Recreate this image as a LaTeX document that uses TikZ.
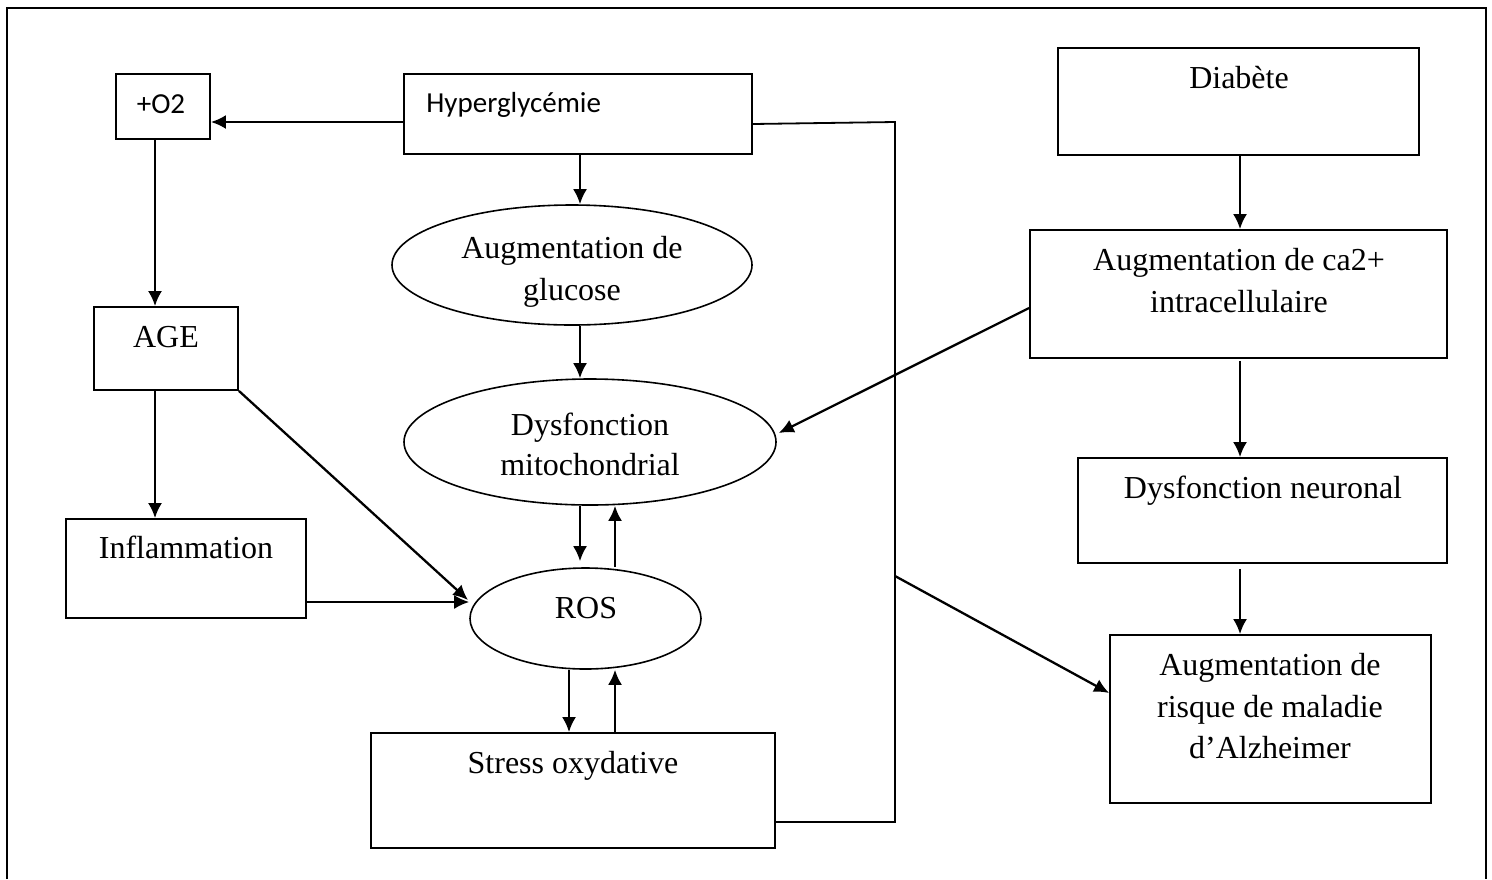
\documentclass[tikz,border=0pt]{standalone}
\usepackage{fontspec}
\setmainfont{Liberation Serif}
\newfontfamily\calib{Carlito}
\usetikzlibrary{shapes.geometric,arrows.meta,calc,fit}
\begin{document}
\begin{tikzpicture}[x=0.5pt,y=-0.5pt,
  box/.style={draw,line width=0.9pt,inner sep=0pt},
  ell/.style={draw,ellipse,line width=0.8pt,inner sep=0pt},
  txt/.style={inner sep=0pt,anchor=base,font=\fontsize{16}{19}\selectfont},
  ctxt/.style={inner sep=0pt,font=\calib\fontsize{14.5}{17}\selectfont},
  arr/.style={line width=1.15pt,-{Latex[length=7.5pt,width=7pt]}},
  ln/.style={line width=0.9pt}]
\useasboundingbox (0,0) rectangle (1492,879);
% frame
\draw[line width=1pt] (7,879) -- (7,8) -- (1486,8) -- (1486,879);
% boxes
\node[box,fit={(116,74)(210,139)}] (o2) {};
\node[box,fit={(404,74)(752,154)}] (hyp) {};
\node[box,fit={(94,307)(238,390)}] (age) {};
\node[box,fit={(66,519)(306,618)}] (infl) {};
\node[box,fit={(371,733)(775,848)}] (stress) {};
\node[box,fit={(1058,48)(1419,155)}] (dia) {};
\node[box,fit={(1030,230)(1447,358)}] (ca) {};
\node[box,fit={(1078,458)(1447,563)}] (neur) {};
\node[box,fit={(1110,635)(1431,803)}] (alz) {};
% ellipses
\node[ell,minimum width=180pt,minimum height=60pt] (glu) at (572,265) {};
\node[ell,minimum width=186pt,minimum height=63pt] (dys) at (590,442) {};
\node[ell,minimum width=115.5pt,minimum height=50.5pt] (ros) at (585.5,618.5) {};
% texts
\node[ctxt,anchor=base] (o2t) at (161,113) {+O2};
\node[ctxt,anchor=base west] (hypt) at (426,112) {Hyperglycémie};
\node[txt] (glut1) at (572,258) {Augmentation de};
\node[txt] (glut2) at (572,300) {glucose};
\node[txt] (dyst1) at (590,435) {Dysfonction};
\node[txt] (dyst2) at (590,475) {mitochondrial};
\node[txt] (rost) at (586,618) {ROS};
\node[txt] (aget) at (166,347) {AGE};
\node[txt] (inflt) at (186,558) {Inflammation};
\node[txt] (stresst) at (573,773) {Stress oxydative};
\node[txt] (diat) at (1239,88) {Diabète};
\node[txt] (cat1) at (1239,270) {Augmentation de ca2+};
\node[txt] (cat2) at (1239,312) {intracellulaire};
\node[txt] (neurt) at (1263,498) {Dysfonction neuronal};
\node[txt] (alzt1) at (1270,675) {Augmentation de};
\node[txt] (alzt2) at (1270,717) {risque de maladie};
\node[txt] (alzt3) at (1270,758) {d’Alzheimer};
% connectors
\draw[arr] (hyp.west |- 0,122) -- (o2.east |- 0,122);
\draw[arr] (hyp.south -| 580,0) -- (glu.north -| 580,0);
\draw[arr] (glu.south -| 580,0) -- (dys.north -| 580,0);
\draw[arr] (o2.south -| 155,0) -- (age.north -| 155,0);
\draw[arr] (age.south -| 155,0) -- (infl.north -| 155,0);
\draw[arr] (age.south east) -- (468,600);
\draw[arr] (infl.east |- 0,602) -- (ros.west |- 0,602);
\draw[arr] (dys.south -| 580,0) -- ($(ros.north -| 580,0)+(0,-6)$);
\draw[arr] (ros.north -| 615,0) -- (dys.south -| 615,0);
\draw[arr] (ros.south -| 569,0) -- (stress.north -| 569,0);
\draw[arr] (stress.north -| 615,0) -- (ros.south -| 615,0);
\coordinate (corner1) at (895,822);
\coordinate (corner2) at (895,122);
\coordinate (mid) at (895,576);
\draw[ln] (stress.east |- corner1) -- (corner1) -- (corner2) -- (hyp.east |- 0,124);
\draw[arr] (mid) -- (alz.west |- 0,693);
\draw[arr] (dia.south -| 1240,0) -- (ca.north -| 1240,0);
\draw[arr] (ca.west |- 0,308) -- ($(dys.east)+(2,-9)$);
\draw[arr] ($(ca.south -| 1240,0)+(0,2)$) -- (neur.north -| 1240,0);
\draw[arr] ($(neur.south -| 1240,0)+(0,5)$) -- (alz.north -| 1240,0);
\end{tikzpicture}
\end{document}
